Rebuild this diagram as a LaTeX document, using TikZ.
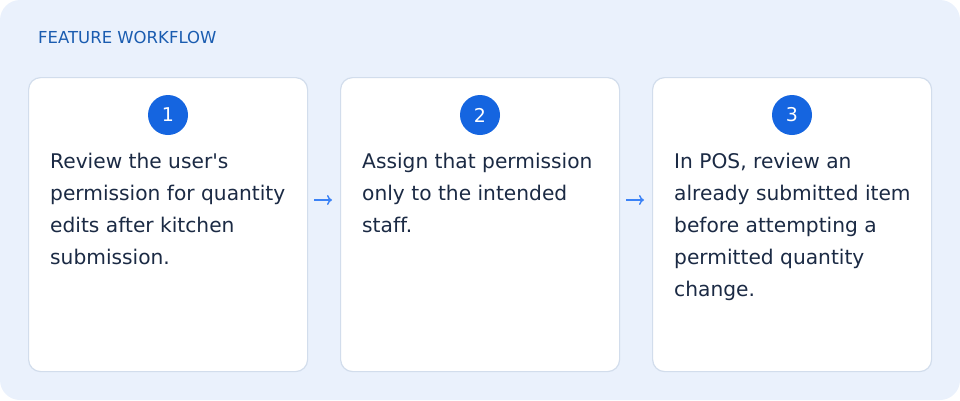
\documentclass[tikz,border=0pt]{standalone}
\usepackage{fontspec}
\setmainfont[Ligatures=NoCommon]{DejaVu Sans}
\usetikzlibrary{positioning, arrows.meta}
\definecolor{panel}{HTML}{EAF1FC}
\definecolor{cardline}{HTML}{D2DDEC}
\definecolor{accent}{HTML}{1565E0}
\definecolor{arrowblue}{HTML}{3B82F6}
\definecolor{titleblue}{HTML}{1A5CB0}
\definecolor{bodytext}{HTML}{1B2A44}
\begin{document}
\begin{tikzpicture}[x=1pt, y=-1pt,
card/.style = {draw=cardline, line width=1.2pt, fill=white, rounded corners=12pt, minimum width=279pt, minimum height=294pt, anchor=north west},
num/.style = {circle, fill=accent, text=white, minimum size=40pt, inner sep=0pt, font=\fontsize{19}{19}\selectfont},
body/.style = {anchor=north west, align=left, inner sep=0pt, text=bodytext, font=\fontsize{20.2}{32}\selectfont},
arr/.style = {-{To[length=5pt,width=10pt]}, arrowblue, line width=1.5pt}]
\useasboundingbox (0,0) rectangle (960,400);
\fill[panel, rounded corners=20pt] (0,0) rectangle (960,400);
\node[anchor=west, inner sep=0pt, text=titleblue, font=\fontsize{16.5}{16}\selectfont] (title) at (38,37) {FEATURE WORKFLOW};
\node[card] (c1) at (28,77) {};
\node[card] (c2) at (340,77) {};
\node[card] (c3) at (652,77) {};
\node[num] (n1) at (168,115) {1};
\node[num] (n2) at (480,115) {2};
\node[num] (n3) at (792,115) {3};
\node[body] (t1) at (50,153) {Review the user\textquotesingle s\\permission for quantity\\edits after kitchen\\submission.};
\node[body] (t2) at (362,153) {Assign that permission\\only to the intended\\staff.};
\node[body] (t3) at (674,153) {In POS, review an\\already submitted item\\before attempting a\\permitted quantity\\change.};
\coordinate (a1) at (314,200); \coordinate (b1) at (332,200);
\coordinate (a2) at (626,200); \coordinate (b2) at (644,200);
\draw[arr] (a1) -- (b1);
\draw[arr] (a2) -- (b2);
\end{tikzpicture}
\end{document}
